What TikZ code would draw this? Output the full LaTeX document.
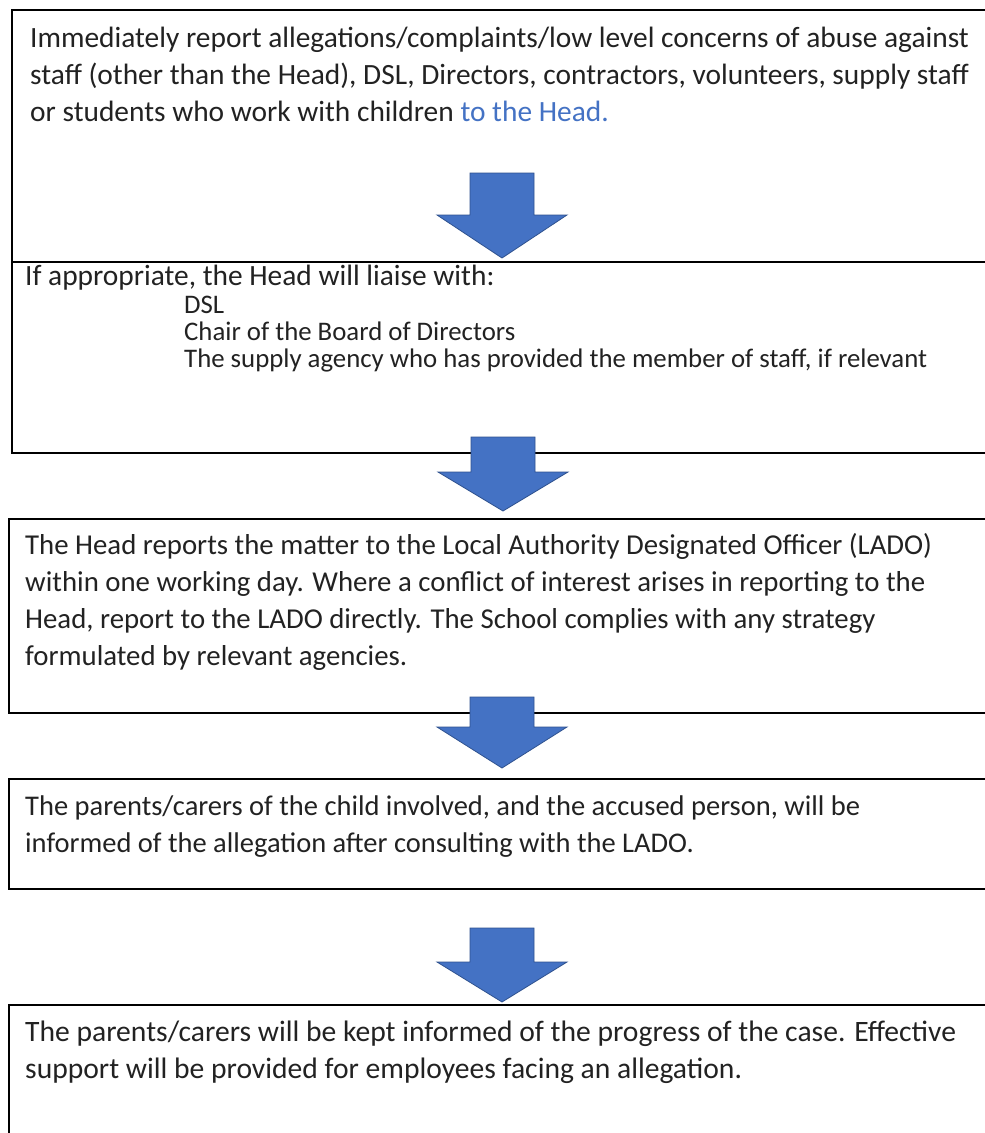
\documentclass[tikz,border=0pt]{standalone}
\usepackage{fontspec}
\setmainfont{Carlito}
\definecolor{arrowblue}{HTML}{4472C4}
\definecolor{arrowedge}{HTML}{2F528F}
\definecolor{txt}{HTML}{222222}
\definecolor{linkblue}{HTML}{4472C4}
\tikzset{
  flowbox/.style={draw=black, line width=2pt, fill=none, rectangle, inner sep=0pt, anchor=north west},
  bodytext/.style={text=txt, anchor=base west, align=left, inner sep=0pt},
  blockarrow/.style={fill=arrowblue, draw=arrowedge, line width=0.8pt, line join=miter}
}
\newcommand{\flowarrow}[4]{%
  \filldraw[blockarrow] (#1-32,#2) -- (#1+32,#2) -- (#1+32,#3) -- (#1+65,#3) -- (#1,#4) -- (#1-65,#3) -- (#1-32,#3) -- cycle;}
\begin{document}
\begin{tikzpicture}[x=1pt,y=-1pt]
\useasboundingbox (0,0) rectangle (985,1133);
\fill[white] (0,0) rectangle (985,1133);
% boxes
\node[flowbox, minimum width=990pt, minimum height=252pt] (b1) at (11,9) {};
\node[flowbox, minimum width=990pt, minimum height=191pt] (b2) at (11,261) {};
\node[flowbox, minimum width=990pt, minimum height=194pt] (b3) at (8,518) {};
\node[flowbox, minimum width=990pt, minimum height=110pt] (b4) at (8,778) {};
\node[flowbox, minimum width=990pt, minimum height=150pt] (b5) at (8,1004) {};
% texts (base anchor = baseline of the last line)
\node[bodytext, font=\fontsize{29.4}{37}\selectfont] (t1) at (30,121) {Immediately report allegations/complaints/low level concerns of abuse against\\
staff (other than the Head), DSL, Directors, contractors, volunteers, supply staff\\
or students who work with children \textcolor{linkblue}{to the Head.}};
\node[bodytext, font=\fontsize{29.4}{37}\selectfont] (t2) at (25,285) {If appropriate, the Head will liaise with:};
\node[bodytext, font=\fontsize{26.8}{27.3}\selectfont] (t2b) at (184,367.6) {DSL\\Chair of the Board of Directors\\The supply agency who has provided the member of staff, if relevant};
\node[bodytext, font=\fontsize{28.8}{37}\selectfont] (t3) at (25,665) {The Head reports the matter to the Local Authority Designated Officer (LADO)\\
within one working day. Where a conflict of interest arises in reporting to the\\
Head, report to the LADO directly. The School complies with any strategy\\
formulated by relevant agencies.};
\node[bodytext, font=\fontsize{28.5}{37}\selectfont] (t4) at (25,852) {The parents/carers of the child involved, and the accused person, will be\\
informed of the allegation after consulting with the LADO.};
\node[bodytext, font=\fontsize{29.6}{37}\selectfont] (t5) at (25,1078) {The parents/carers will be kept informed of the progress of the case. Effective\\
support will be provided for employees facing an allegation.};
% arrows
\flowarrow{502}{173}{215}{258}
\flowarrow{503}{437}{472}{511}
\flowarrow{502}{697}{727}{768}
\flowarrow{502}{928}{962}{1002}
\end{tikzpicture}
\end{document}
